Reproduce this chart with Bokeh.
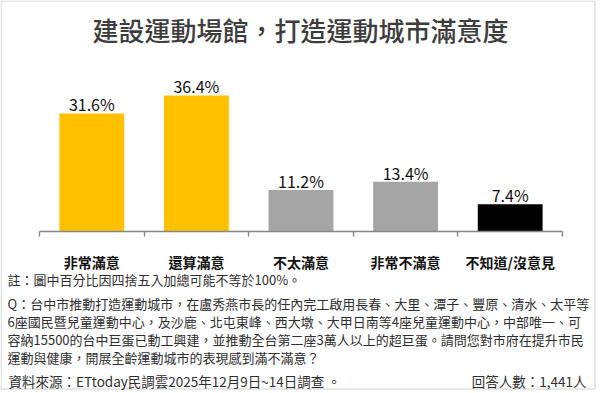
from bokeh.plotting import figure
from bokeh.models import Range1d, LinearAxis, FixedTicker, ColumnDataSource
from bokeh.core.properties import value
from bokeh.embed import file_html
from bokeh.resources import INLINE

# ---------------- data ----------------
title_text = "建設運動場館，打造運動城市滿意度"
categories = ["非常滿意", "還算滿意", "不太滿意", "非常不滿意", "不知道/沒意見"]
values = [31.6, 36.4, 11.2, 13.4, 7.4]
bar_colors = ["#FFC000", "#FFC000", "#A5A5A5", "#A5A5A5", "#000000"]
note_text = "註：圖中百分比因四捨五入加總可能不等於100%。"
question_lines = [
    "Q：台中市推動打造運動城市，在盧秀燕市長的任內完工啟用長春、大里、潭子、豐原、清水、太平等",
    "6座國民暨兒童運動中心，及沙鹿、北屯東峰、西大墩、大甲日南等4座兒童運動中心，中部唯一、可",
    "容納15500的台中巨蛋已動工興建，並推動全台第二座3萬人以上的超巨蛋。請問您對市府在提升市民",
    "運動與健康，開展全齡運動城市的表現感到滿不滿意？",
]
source_text = "資料來源：ETtoday民調雲2025年12月9日~14日調查 。"
count_text = "回答人數：1,441人"

CJK = "Noto Sans CJK TC"
CJK_MED = "Noto Sans CJK TC Medium"

positions = list(range(1, len(categories) + 1))
boundaries = [i + 0.5 for i in range(len(categories) + 1)]
labels = [f"{v}%" for v in values]

# ---------------- figure (layout space in pixels of a 600x393 canvas) ----------------
p = figure(width=600, height=393, output_backend="svg", toolbar_location=None,
           x_axis_type=None, y_axis_type=None,
           x_range=Range1d(0, 600), y_range=Range1d(393, 0),
           min_border=0, background_fill_color="white", border_fill_color="white")
p.outline_line_color = None
p.extra_x_ranges = {"cat": Range1d(0.1272, 5.8633)}
p.extra_y_ranges = {"val": Range1d(-43.067, 61.733)}

# frame border
p.quad(left=[0.5], right=[594.5], top=[0.5], bottom=[388.5], fill_color=None,
       line_color="#d0d0d0", line_width=1)

src = ColumnDataSource(dict(x=positions, top=values, color=bar_colors, label=labels))
p.vbar(x="x", top="top", bottom=0, width=0.62, fill_color="color", line_color=None,
       source=src, x_range_name="cat", y_range_name="val")
p.text(x="x", y="top", text="label", source=src, x_range_name="cat", y_range_name="val",
       y_offset=-9, text_align="center", text_baseline="alphabetic",
       text_font=value(CJK), text_font_size="16px", text_color="#111111")

ax = LinearAxis(x_range_name="cat", y_range_name="val", fixed_location=0,
                ticker=FixedTicker(ticks=positions, minor_ticks=boundaries),
                bounds=(0.5, 5.5),
                major_label_overrides={k: c for k, c in zip(positions, categories)})
ax.axis_line_color = "#868686"
ax.axis_line_width = 1.4
ax.major_tick_line_color = None
ax.major_tick_in = 0
ax.major_tick_out = 0
ax.minor_tick_line_color = "#868686"
ax.minor_tick_line_width = 1.4
ax.minor_tick_in = 0
ax.minor_tick_out = 5
ax.major_label_standoff = 15
ax.major_label_text_font = CJK
ax.major_label_text_font_size = "14px"
ax.major_label_text_font_style = "bold"
ax.major_label_text_color = "#111111"
p.add_layout(ax, "below")

# title
p.text(x=[300], y=[29], text=[title_text], text_align="center", text_baseline="middle",
       text_font=value(CJK_MED), text_font_size="26px", text_color="#3d3d3d")

# footer
FOOT = "#2f2f2f"
p.text(x=[7], y=[279], text=[note_text], text_align="left", text_baseline="middle",
       text_font=value(CJK), text_font_size="13px", text_color=FOOT)
p.text(x=[7] * len(question_lines), y=[302.5, 320.5, 338.7, 357], text=question_lines,
       text_align="left", text_baseline="middle",
       text_font=value(CJK), text_font_size="13px", text_color=FOOT)
p.text(x=[8], y=[380], text=[source_text], text_align="left", text_baseline="middle",
       text_font=value(CJK), text_font_size="13.5px", text_color=FOOT)
p.text(x=[586], y=[380], text=[count_text], text_align="right", text_baseline="middle",
       text_font=value(CJK), text_font_size="13.5px", text_color=FOOT)

open("out.html", "w").write(file_html(p, INLINE))
